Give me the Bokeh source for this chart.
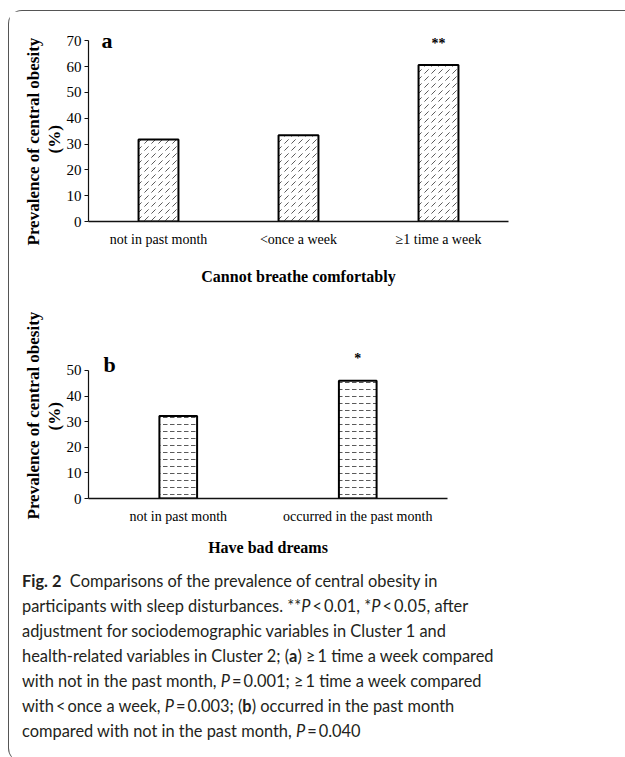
from bokeh.plotting import figure
from bokeh.models import FactorRange, Range1d, Label, Div, FixedTicker, Title
from bokeh.layouts import column
from bokeh.embed import file_html
from bokeh.resources import INLINE
from bokeh.core.properties import value

# ---------------- data ----------------
cats_a = ["not in past month", "<once a week", "\u22651 time a week"]
vals_a = [31.8, 33.4, 60.6]
sig_a = ["", "", "**"]
ticks_a = [0, 10, 20, 30, 40, 50, 60, 70]
xtitle_a = "Cannot breathe comfortably"

cats_b = ["not in past month", "occurred in the past month"]
vals_b = [32.2, 46.0]
sig_b = ["", "*"]
ticks_b = [0, 10, 20, 30, 40, 50]
xtitle_b = "Have bad dreams"

ytitle_1 = "Prevalence of central obesity"
ytitle_2 = "(%)"

caption_lines = [
    "<b>Fig.\u00a02</b>\u00a0 Comparisons of the prevalence of central obesity in",
    "participants with sleep disturbances. **<i>P</i>\u2009&lt;\u20090.01, *<i>P</i>\u2009&lt;\u20090.05, after",
    "adjustment for sociodemographic variables in Cluster 1 and",
    "health-related variables in Cluster 2; (<b>a</b>) \u2265\u20091 time a week compared",
    "with not in the past month, <i>P</i>\u2009=\u20090.001; \u2265\u20091 time a week compared",
    "with\u2009&lt;\u2009once a week, <i>P</i>\u2009=\u20090.003; (<b>b</b>) occurred in the past month",
    "compared with not in the past month, <i>P</i>\u2009=\u20090.040",
]

SERIF = "Liberation Serif"


def style_axes(p, ticks, top_tick, title_standoff):
    p.xgrid.visible = False
    p.ygrid.visible = False
    p.outline_line_color = None
    p.background_fill_color = "white"
    p.border_fill_color = "white"
    xa = p.xaxis[0]
    xa.axis_line_color = "#111111"
    xa.axis_line_width = 1.4
    xa.major_tick_line_color = None
    xa.minor_tick_line_color = None
    xa.major_label_text_font = SERIF
    xa.major_label_text_font_size = "14px"
    xa.major_label_text_color = "black"
    xa.major_label_standoff = 4
    xa.axis_label_text_font = SERIF
    xa.axis_label_text_font_style = "bold"
    xa.axis_label_text_font_size = "16px"
    xa.axis_label_text_color = "black"
    xa.axis_label_standoff = title_standoff
    ya = p.yaxis[0]
    ya.ticker = FixedTicker(ticks=ticks)
    ya.bounds = (0, top_tick)
    ya.axis_line_color = "#111111"
    ya.axis_line_width = 1.2
    ya.major_tick_out = 4
    ya.major_tick_in = 0
    ya.major_tick_line_color = "#111111"
    ya.minor_tick_line_color = None
    ya.major_label_text_font = SERIF
    ya.major_label_text_font_size = "15px"
    ya.major_label_text_color = "black"
    ya.major_label_standoff = 3


def ytitle(p, off_pct, off_main):
    for t, off in ((ytitle_2, off_pct), (ytitle_1, off_main)):
        p.add_layout(Title(text=t, align="left", offset=off,
                           text_font=SERIF, text_font_style="bold",
                           text_font_size="17px", text_color="black",
                           standoff=0), "left")


# ---------------- panel a ----------------
pa = figure(x_range=FactorRange(*cats_a), y_range=Range1d(0, 74),
            frame_width=420, frame_height=191, output_backend="svg",
            toolbar_location=None, min_border_left=79, min_border_right=110,
            min_border_top=19, min_border_bottom=50, x_axis_label=xtitle_a)
style_axes(pa, ticks_a, ticks_a[-1], 18)
pa.vbar(x=cats_a, top=vals_a, width=0.285, fill_color="white",
        line_color="black", line_width=2, hatch_pattern=",",
        hatch_color="#5a5a5a", hatch_scale=7, hatch_weight=1)
pa.text(x=cats_a, y=[ticks_a[-1]] * len(cats_a), text=sig_a, y_offset=3,
        text_align="center", text_baseline="middle", text_font=value(SERIF),
        text_font_style="bold", text_font_size="14px", text_color="black")
pa.add_layout(Label(x=0.093, y=ticks_a[-1], text="a", text_align="left",
                    text_baseline="middle", text_font=SERIF,
                    text_font_style="bold", text_font_size="22px",
                    text_color="black"))
ytitle(pa, 68, -24)

# ---------------- panel b ----------------
pb = figure(x_range=FactorRange(*cats_b), y_range=Range1d(0, 58.2),
            frame_width=359, frame_height=149, output_backend="svg",
            toolbar_location=None, min_border_left=79, min_border_right=171,
            min_border_top=62, min_border_bottom=50, x_axis_label=xtitle_b)
style_axes(pb, ticks_b, ticks_b[-1], 12)
pb.vbar(x=cats_b, top=vals_b, width=0.21, fill_color="white",
        line_color="black", line_width=2, hatch_pattern='"',
        hatch_color="#5a5a5a", hatch_scale=7, hatch_weight=1)
pb.text(x=cats_b, y=[ticks_b[-1] + 4.5] * len(cats_b), text=sig_b,
        text_align="center", text_baseline="middle", text_font=value(SERIF),
        text_font_style="bold", text_font_size="14px", text_color="black")
pb.add_layout(Label(x=0.083, y=52.3, text="b", text_align="left",
                    text_baseline="middle", text_font=SERIF,
                    text_font_style="bold", text_font_size="22px",
                    text_color="black"))
ytitle(pb, 68, -21)

# ---------------- caption ----------------
cap = Div(text=('<div style="font-family: Lato; font-size: 16.4px; line-height: 25px; '
                'color: #231f20; padding-left: 8px; padding-top: 5px; white-space: nowrap;">'
                + "<br>".join(caption_lines) + "</div>"),
          width=616, height=194)

layout = column(pa, pb, cap, styles={
    "border-top": "1px solid #555",
    "border-left": "1px solid #555",
    "border-top-left-radius": "14px",
    "border-bottom-left-radius": "14px",
    "margin-left": "8px",
    "margin-top": "10px",
})

open("out.html", "w").write(file_html(layout, INLINE))
